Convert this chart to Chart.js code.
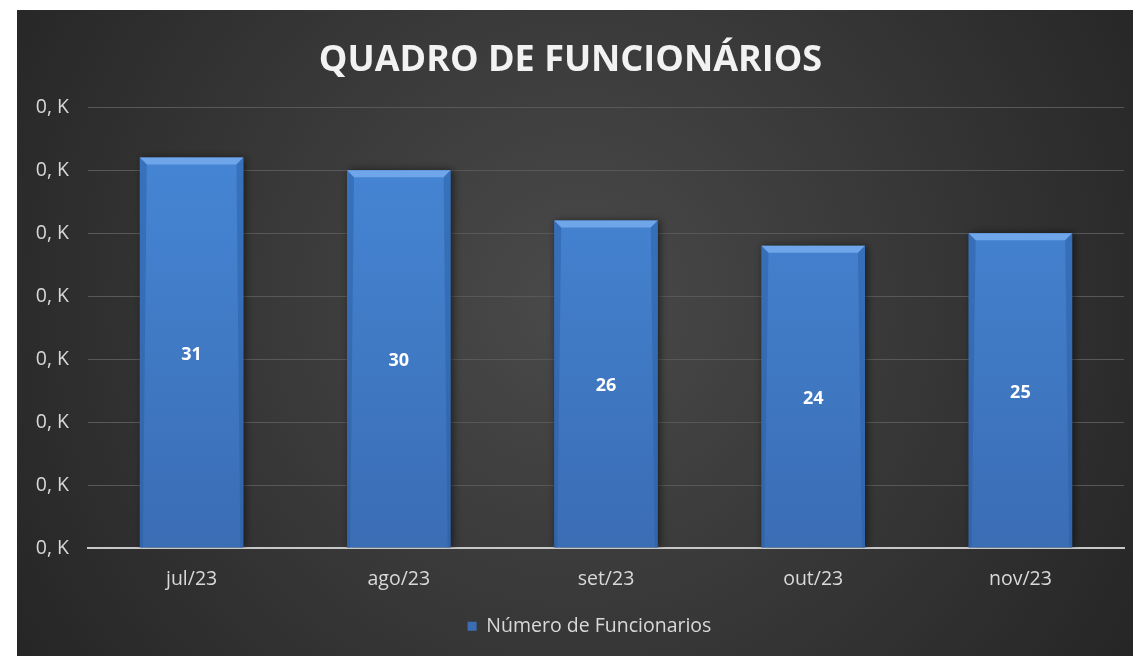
<!DOCTYPE html>
<html>
<head>
<meta charset="utf-8">
<script src="https://cdn.jsdelivr.net/npm/chart.js@4.4.0/dist/chart.umd.min.js"></script>
<style>
  html, body { margin: 0; padding: 0; background: #fff; }
  #wrap { position: absolute; left: 17px; top: 10px; width: 1116px; height: 646px; }
</style>
</head>
<body>
<div id="wrap"><canvas id="chart"></canvas></div>
<script>
// dados do gráfico
const meses = ['jul/23', 'ago/23', 'set/23', 'out/23', 'nov/23'];
const funcionarios = [31, 30, 26, 24, 25];
const rotuloEixoY = '0, K';
const tituloGrafico = 'QUADRO DE FUNCIONÁRIOS';
const nomeSerie = 'Número de Funcionarios';

// fundo escuro com gradiente radial
const fundoPlugin = {
  id: 'fundo',
  beforeDraw(chart) {
    const { ctx, width, height } = chart;
    const g = ctx.createRadialGradient(width * 0.5, height * 0.45, 0, width * 0.5, height * 0.45, width * 0.6);
    g.addColorStop(0, '#4a4a4a');
    g.addColorStop(1, '#252525');
    ctx.save();
    ctx.fillStyle = g;
    ctx.fillRect(0, 0, width, height);
    ctx.restore();
  }
};

// legenda um pouco deslocada para a direita, como no original
const legendaPlugin = {
  id: 'legendaDesloc',
  afterLayout(chart) {
    if (chart.legend) {
      chart.legend.left += 38;
    }
  }
};

// sombra das barras
const sombraPlugin = {
  id: 'sombra',
  beforeDatasetsDraw(chart) {
    const ctx = chart.ctx;
    ctx.save();
    ctx.shadowColor = 'rgba(0,0,0,0.55)';
    ctx.shadowBlur = 8;
    ctx.shadowOffsetX = 2;
    ctx.shadowOffsetY = 0;
  },
  afterDatasetsDraw(chart) {
    chart.ctx.restore();
  }
};

// chanfro no topo das barras + rótulos de valor
const chanfroPlugin = {
  id: 'chanfro',
  afterDatasetsDraw(chart) {
    const ctx = chart.ctx;
    const meta = chart.getDatasetMeta(0);
    ctx.save();
    meta.data.forEach((bar, i) => {
      const l = bar.x - bar.width / 2;
      const r = bar.x + bar.width / 2;
      const t = bar.y;
      const b = bar.base;
      const d = 7;
      // topo claro
      ctx.fillStyle = '#6fa6ea';
      ctx.beginPath();
      ctx.moveTo(l, t);
      ctx.lineTo(r, t);
      ctx.lineTo(r - d, t + d);
      ctx.lineTo(l + d, t + d);
      ctx.closePath();
      ctx.fill();
      // laterais
      ctx.fillStyle = 'rgba(40,90,160,0.45)';
      ctx.beginPath();
      ctx.moveTo(l, t);
      ctx.lineTo(l + d, t + d);
      ctx.lineTo(l + 3, b);
      ctx.lineTo(l, b);
      ctx.closePath();
      ctx.fill();
      ctx.beginPath();
      ctx.moveTo(r, t);
      ctx.lineTo(r - d, t + d);
      ctx.lineTo(r - 3, b);
      ctx.lineTo(r, b);
      ctx.closePath();
      ctx.fill();
      // valor
      ctx.fillStyle = '#ffffff';
      ctx.font = 'bold 18px "Open Sans", sans-serif';
      ctx.textAlign = 'center';
      ctx.textBaseline = 'middle';
      ctx.fillText(funcionarios[i], bar.x, (bar.y + bar.base) / 2 + 2);
    });
    ctx.restore();
  }
};

const ctx = document.getElementById('chart').getContext('2d');
new Chart(ctx, {
  type: 'bar',
  data: {
    labels: meses,
    datasets: [{
      label: nomeSerie,
      data: funcionarios,
      backgroundColor: (c) => {
        const area = c.chart.chartArea;
        if (!area) return '#4080d0';
        const g = c.chart.ctx.createLinearGradient(0, area.top, 0, area.bottom);
        g.addColorStop(0, '#4788d8');
        g.addColorStop(1, '#3a6db4');
        return g;
      },
      borderWidth: 0,
      barPercentage: 1,
      categoryPercentage: 0.5
    }]
  },
  options: {
    responsive: true,
    maintainAspectRatio: false,
    animation: false,
    layout: { padding: { left: 0, right: 9, top: 0, bottom: 10 } },
    scales: {
      x: {
        grid: { display: false, drawTicks: false },
        border: { display: true, color: '#c8c8c8', width: 2 },
        ticks: {
          color: '#d9d9d9',
          font: { family: 'Open Sans', size: 19.5 },
          padding: 20
        }
      },
      y: {
        min: 0,
        max: 35,
        afterFit(scale) { scale.width = 71; },
        grid: { color: '#585858', lineWidth: 1, drawTicks: false },
        border: { display: false },
        ticks: {
          stepSize: 5,
          color: '#d9d9d9',
          font: { family: 'Open Sans', size: 19.5 },
          padding: 19,
          callback: () => rotuloEixoY
        }
      }
    },
    plugins: {
      title: {
        display: true,
        text: tituloGrafico,
        color: '#f2f2f2',
        font: { family: 'Open Sans', size: 36, weight: 'bold' },
        padding: { top: 29, bottom: 25 }
      },
      legend: {
        display: true,
        position: 'bottom',
        labels: {
          color: '#d9d9d9',
          font: { family: 'Open Sans', size: 19.5 },
          usePointStyle: true,
          pointStyle: 'rect',
          boxWidth: 9,
          boxHeight: 9,
          padding: 5
        }
      },
      tooltip: { enabled: false }
    }
  },
  plugins: [fundoPlugin, legendaPlugin, sombraPlugin, chanfroPlugin]
});
</script>
</body>
</html>
